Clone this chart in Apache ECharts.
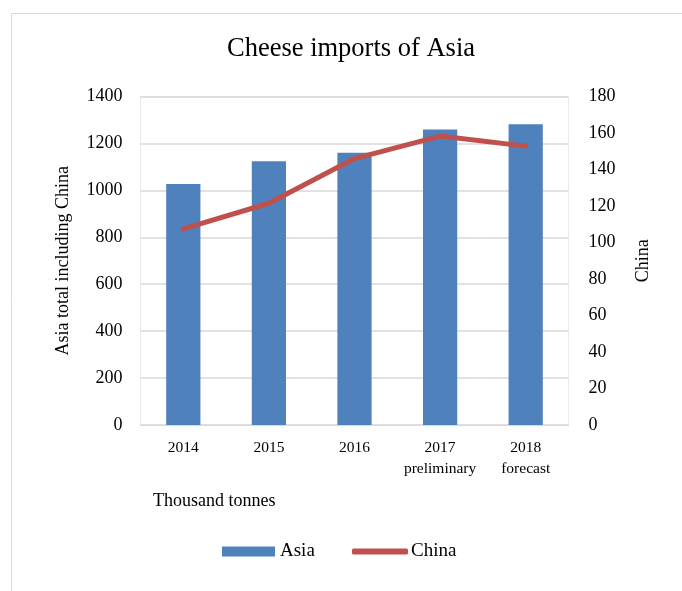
<!DOCTYPE html>
<html><head><meta charset="utf-8">
<script src="https://cdn.jsdelivr.net/npm/echarts@6/dist/echarts.min.js"></script>
<style>html,body{margin:0;padding:0;background:#fff}#c{width:682px;height:591px}</style>
</head><body><div id="c"></div>
<script>
const categories = ["2014", "2015", "2016", "2017\npreliminary", "2018\nforecast"];
const asiaValues = [1027, 1124, 1160, 1259, 1282];
const chinaValues = [107.5, 121.5, 146, 158.3, 152.8];
const leftTicks = [0, 1400, 200];
const rightTicks = [0, 180, 20];

const FONT = "Liberation Serif";
const chart = echarts.init(document.getElementById('c'));
chart.setOption({
  animation: false,
  textStyle: { fontFamily: FONT, color: '#000' },
  graphic: [{
    type: 'rect', shape: { x: 11.5, y: 13.5, width: 720, height: 640 },
    style: { fill: 'none', stroke: '#d9d9d9', lineWidth: 1 }, silent: true, z: -10
  }, {
    type: 'text', left: 153, top: 492,
    style: { text: 'Thousand tonnes', font: '18px "Liberation Serif"', fill: '#000' }
  }],
  title: {
    text: 'Cheese imports of Asia', left: 346, top: 31, textAlign: 'center',
    textStyle: { fontFamily: FONT, fontSize: 26.5, fontWeight: 'normal', color: '#000' }
  },
  legend: [{
    data: [{ name: 'Asia', icon: 'rect' }], left: 217, top: 537,
    itemWidth: 53, itemHeight: 10, itemGap: 0,
    textStyle: { fontFamily: FONT, fontSize: 19, color: '#000' }
  }, {
    data: [{ name: 'China', icon: 'roundRect' }], left: 347, top: 537,
    itemWidth: 56, itemHeight: 6, itemGap: 0,
    textStyle: { fontFamily: FONT, fontSize: 19, color: '#000', padding: [0, 0, 0, -2] }
  }],
  grid: { left: 140.5, right: 113.5, top: 96.5, bottom: 166, show: true, borderColor: '#ebebeb', borderWidth: 1 },
  xAxis: {
    type: 'category', data: categories,
    axisLine: { lineStyle: { color: '#d9d9d9', width: 1 } },
    axisTick: { show: false },
    axisLabel: { interval: 0, fontFamily: FONT, fontSize: 15.5, color: '#000', margin: 12, lineHeight: 21 }
  },
  yAxis: [{
    type: 'value', min: leftTicks[0], max: leftTicks[1], interval: leftTicks[2],
    name: 'Asia total including China', nameLocation: 'middle', nameGap: 68, nameRotate: 90,
    nameTextStyle: { fontFamily: FONT, fontSize: 18, color: '#000' },
    axisLine: { show: false }, axisTick: { show: false },
    axisLabel: { fontFamily: FONT, fontSize: 18, color: '#000', margin: 18, formatter: v => String(v) },
    splitLine: { lineStyle: { color: '#d9d9d9', width: 1.5 } }
  }, {
    type: 'value', min: rightTicks[0], max: rightTicks[1], interval: rightTicks[2],
    name: 'China', nameLocation: 'middle', nameGap: 66, nameRotate: 90,
    nameTextStyle: { fontFamily: FONT, fontSize: 18, color: '#000' },
    axisLine: { show: false }, axisTick: { show: false },
    axisLabel: { fontFamily: FONT, fontSize: 18, color: '#000', margin: 20, formatter: v => String(v) },
    splitLine: { show: false }
  }],
  series: [{
    name: 'Asia', type: 'bar', data: asiaValues, barWidth: '40%',
    itemStyle: { color: '#4f81bd' }
  }, {
    name: 'China', type: 'line', yAxisIndex: 1, data: chinaValues,
    symbol: 'none', lineStyle: { color: '#c0504d', width: 5, cap: 'round', join: 'round' },
    itemStyle: { color: '#c0504d' }
  }]
});
</script></body></html>
